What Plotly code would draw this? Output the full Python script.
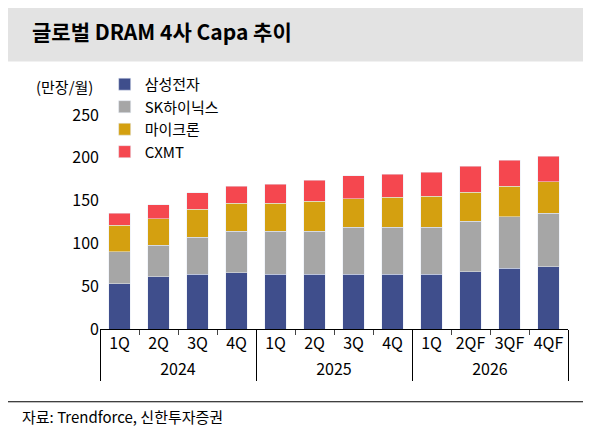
import plotly.graph_objects as go

years = ["2024"]*4 + ["2025"]*4 + ["2026"]*4
quarters = ["1Q","2Q","3Q","4Q","1Q","2Q","3Q","4Q","1Q","2QF","3QF","4QF"]
samsung = [53, 61, 64, 66, 64, 64, 64, 64, 64, 67, 71, 73]
skhynix = [37, 37, 43, 48, 50, 50, 55, 55, 55, 59, 60, 62]
micron = [31, 31, 33, 33, 33, 35, 33, 35, 36, 34, 36, 37]
cxmt = [14, 16, 19, 20, 22, 25, 27, 27, 28, 30, 30, 30]

names = ["삼성전자", "SK하이닉스", "마이크론", "CXMT"]
colors = ["#3F4E8C", "#A6A6A6", "#D4A010", "#F5474F"]
series = [samsung, skhynix, micron, cxmt]

fig = go.Figure()
for n, c, s in zip(names, colors, series):
    fig.add_bar(x=[years, quarters], y=s, name=n, marker_color=c, width=0.55)

fig.update_layout(
    barmode="stack", width=591, height=448,
    margin=dict(l=92, r=31, t=107, b=127, autoexpand=False),
    plot_bgcolor="white", paper_bgcolor="white",
    font=dict(family="Noto Sans CJK KR", size=15, color="black"),
    legend=dict(x=0.01, y=1.22, xanchor="left", yanchor="top", traceorder="normal",
                font=dict(size=15), bgcolor="rgba(0,0,0,0)", itemwidth=30, tracegroupgap=0),
    yaxis=dict(range=[0, 250], dtick=50, showgrid=False, ticks="", showline=False,
               tickfont=dict(size=16), automargin=False),
    xaxis=dict(showline=True, linecolor="black", tickfont=dict(size=16), ticks="outside",
               dividercolor="black", dividerwidth=1, automargin=False),
    shapes=[
        dict(type="rect", xref="paper", yref="paper", x0=-0.2, x1=1.1, y0=1.25, y1=1.50,
             fillcolor="#E3E3E3", line_width=0, layer="below"),
        dict(type="line", xref="paper", yref="paper", x0=-0.2, x1=1.1, y0=-0.34, y1=-0.34,
             line=dict(color="black", width=1)),
    ],
    annotations=[
        dict(text="<b>글로벌 DRAM 4사 Capa 추이</b>", xref="paper", yref="paper", x=-0.15, y=1.47,
             xanchor="left", yanchor="top", showarrow=False, font=dict(size=21)),
        dict(text="(만장/월)", xref="paper", yref="paper", x=-0.14, y=1.19,
             xanchor="left", yanchor="top", showarrow=False, font=dict(size=15)),
        dict(text="자료: Trendforce, 신한투자증권", xref="paper", yref="paper", x=-0.17, y=-0.35,
             xanchor="left", yanchor="top", showarrow=False, font=dict(size=15)),
    ],
)
fig.write_html("out.html")
